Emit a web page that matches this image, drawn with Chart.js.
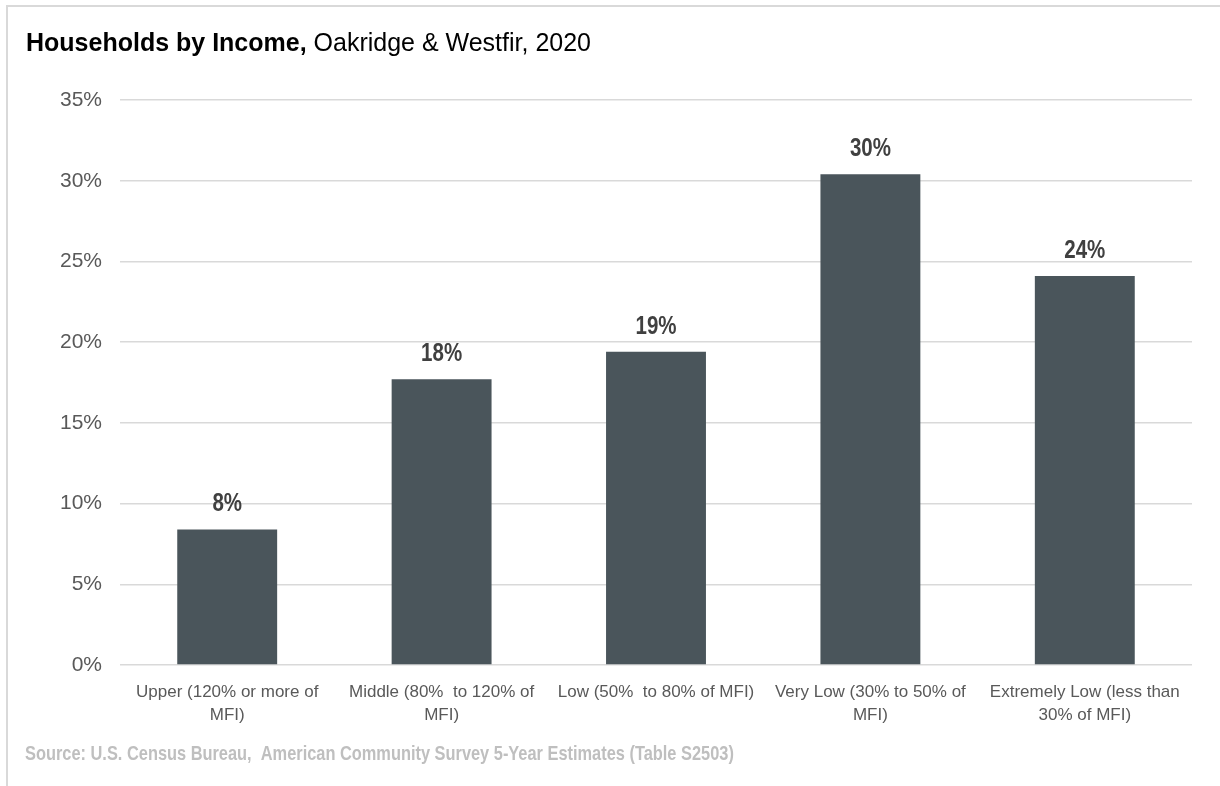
<!DOCTYPE html>
<html>
<head>
<meta charset="utf-8">
<title>Households by Income</title>
<script src="https://cdn.jsdelivr.net/npm/chart.js@4"></script>
<style>
  html, body { margin: 0; padding: 0; background: #fff; }
  canvas { display: block; }
</style>
</head>
<body>
<canvas id="incomeChart" width="1220" height="786"></canvas>
<script>
const incomeGroups = [
  ['Upper (120% or more of', 'MFI)'],
  ['Middle (80%  to 120% of', 'MFI)'],
  ['Low (50%  to 80% of MFI)'],
  ['Very Low (30% to 50% of', 'MFI)'],
  ['Extremely Low (less than', '30% of MFI)']
];
const householdShare = [8.4, 17.7, 19.4, 30.4, 24.1];
const yTicks = [0, 5, 10, 15, 20, 25, 30, 35];

const sans = "'Liberation Sans', Arial, Helvetica, sans-serif";

// draws text squeezed horizontally, like a narrow face
function narrowText(ctx, text, x, y, squeeze) {
  ctx.save();
  ctx.translate(x, y);
  ctx.scale(squeeze, 1);
  ctx.fillText(text, 0, 0);
  ctx.restore();
}

// frame, title and source line around the plot
const frame = {
  id: 'frame',
  beforeDraw(chart) {
    const {ctx, width, height} = chart;
    ctx.save();
    ctx.fillStyle = '#fff';
    ctx.fillRect(0, 0, width, height);
    ctx.strokeStyle = '#d9d9d9';
    ctx.lineWidth = 2;
    ctx.beginPath();
    ctx.moveTo(width, 6);
    ctx.lineTo(7, 6);
    ctx.lineTo(7, height);
    ctx.stroke();

    ctx.textBaseline = 'alphabetic';
    ctx.fillStyle = '#000';
    ctx.font = 'bold 25px ' + sans;
    const bold = 'Households by Income,';
    ctx.fillText(bold, 26, 51);
    const w = ctx.measureText(bold).width;
    ctx.font = '25px ' + sans;
    ctx.fillText(' Oakridge & Westfir, 2020', 26 + w, 51);

    ctx.fillStyle = '#bfbfbf';
    ctx.font = 'bold 21px ' + sans;
    narrowText(ctx, 'Source: U.S. Census Bureau,  American Community Survey 5-Year Estimates (Table S2503)', 25, 760, 0.78);
    ctx.restore();
  }
};

// percentage over each bar
const barValues = {
  id: 'barValues',
  afterDatasetsDraw(chart) {
    const {ctx} = chart;
    const meta = chart.getDatasetMeta(0);
    ctx.save();
    ctx.fillStyle = '#404040';
    ctx.font = 'bold 25px ' + sans;
    ctx.textAlign = 'center';
    ctx.textBaseline = 'middle';
    meta.data.forEach((bar, i) => {
      const v = chart.data.datasets[0].data[i];
      narrowText(ctx, Math.round(v) + '%', bar.x, bar.y - 25, 0.82);
    });
    ctx.restore();
  }
};

new Chart(document.getElementById('incomeChart'), {
  type: 'bar',
  data: {
    labels: incomeGroups,
    datasets: [{
      data: householdShare,
      backgroundColor: '#4a555b',
      categoryPercentage: 1,
      barPercentage: 0.466
    }]
  },
  options: {
    responsive: false,
    animation: false,
    layout: {padding: {top: 100, right: 28, bottom: 0, left: 0}},
    plugins: {
      legend: {display: false},
      tooltip: {enabled: false}
    },
    scales: {
      x: {
        grid: {display: false},
        border: {display: false},
        ticks: {
          color: '#595959',
          font: {family: sans, size: 17, lineHeight: 1.35},
          padding: 8,
          maxRotation: 0,
          autoSkip: false
        },
        afterFit(scale) { scale.height = 121; }
      },
      y: {
        min: 0,
        max: 35,
        afterBuildTicks(scale) { scale.ticks = yTicks.map(v => ({value: v})); },
        grid: {color: '#d9d9d9', lineWidth: 1.5, drawTicks: false},
        border: {display: false},
        ticks: {
          color: '#595959',
          font: {family: sans, size: 21},
          padding: 18,
          callback: v => v + '%'
        },
        afterFit(scale) { scale.width = 120; }
      }
    }
  },
  plugins: [frame, barValues]
});
</script>
</body>
</html>
